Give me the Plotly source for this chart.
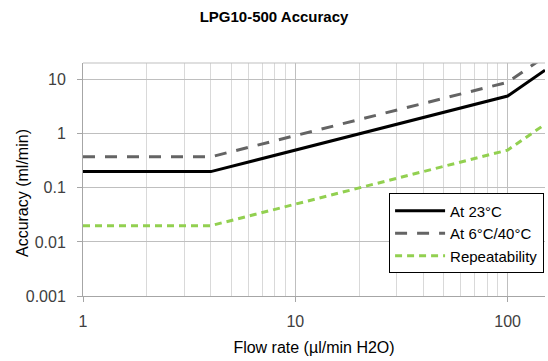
import plotly.graph_objects as go

flow = [1, 4, 100, 150]
acc_23 = [0.2, 0.2, 5, 15]
acc_6_40 = [0.375, 0.375, 9, 27]
repeat = [0.02, 0.02, 0.5, 1.5]

x_ticks = [1, 10, 100]
y_ticks = [0.001, 0.01, 0.1, 1, 10]
y_tick_text = ["0.001", "0.01", "0.1", "1", "10"]

minor_x = [m * d for d in (1, 10, 100) for m in range(2, 10)]

fig = go.Figure()
fig.add_trace(go.Scatter(x=flow, y=acc_23, mode="lines", name="At 23°C",
                         line=dict(color="black", width=3)))
fig.add_trace(go.Scatter(x=flow, y=acc_6_40, mode="lines", name="At 6°C/40°C",
                         line=dict(color="#646464", width=3, dash="12px,10px")))
fig.add_trace(go.Scatter(x=flow, y=repeat, mode="lines", name="Repeatability",
                         line=dict(color="#92D050", width=3, dash="7px,5px")))

font = "Liberation Sans, Arial, sans-serif"
fig.update_layout(
    width=548, height=361,
    margin=dict(l=83, r=3, t=63, b=65),
    paper_bgcolor="white", plot_bgcolor="white",
    title=dict(text="<b>LPG10-500 Accuracy</b>", x=0.5, xanchor="center", y=0.953, yanchor="middle",
               font=dict(family=font, size=15, color="black")),
    font=dict(family=font, size=15, color="#404040"),
    showlegend=True,
    legend=dict(x=0.998, xanchor="right", y=0.44, yanchor="top",
                bgcolor="white", bordercolor="black", borderwidth=1,
                font=dict(family=font, size=15, color="black"),
                tracegroupgap=0, itemwidth=50),
)
fig.update_xaxes(
    type="log", range=[0, 2.176],
    tickvals=x_ticks, ticktext=[str(v) for v in x_ticks],
    showgrid=True, gridcolor="#BFBFBF", gridwidth=1,
    minor=dict(tickvals=minor_x, showgrid=True, gridcolor="#D9D9D9", gridwidth=1),
    showline=True, linecolor="#A6A6A6", linewidth=1, mirror=False,
    ticks="outside", ticklen=5, tickcolor="#A6A6A6",
    ticklabelstandoff=6,
    tickfont=dict(size=16, color="#404040"),
    title=dict(text="Flow rate (µl/min H2O)", font=dict(size=16, color="black"), standoff=12),
    zeroline=False,
)
fig.update_yaxes(
    type="log", range=[-3, 1.31],
    tickvals=y_ticks, ticktext=y_tick_text,
    showgrid=True, gridcolor="#BFBFBF", gridwidth=1,
    showline=True, linecolor="#A6A6A6", linewidth=1,
    ticks="outside", ticklen=5, tickcolor="#A6A6A6",
    ticklabelstandoff=8,
    tickfont=dict(size=16, color="#404040"),
    zeroline=False,
)
fig.add_annotation(text="Accuracy (ml/min)", textangle=-90, xref="paper", yref="paper",
                   x=-0.132, y=0.442, xanchor="center", yanchor="middle", showarrow=False,
                   font=dict(family=font, size=16, color="black"))
fig.add_shape(type="line", xref="paper", yref="paper", x0=0, x1=1, y0=1, y1=1,
              line=dict(color="#BFBFBF", width=1))

fig.write_html("out.html")
